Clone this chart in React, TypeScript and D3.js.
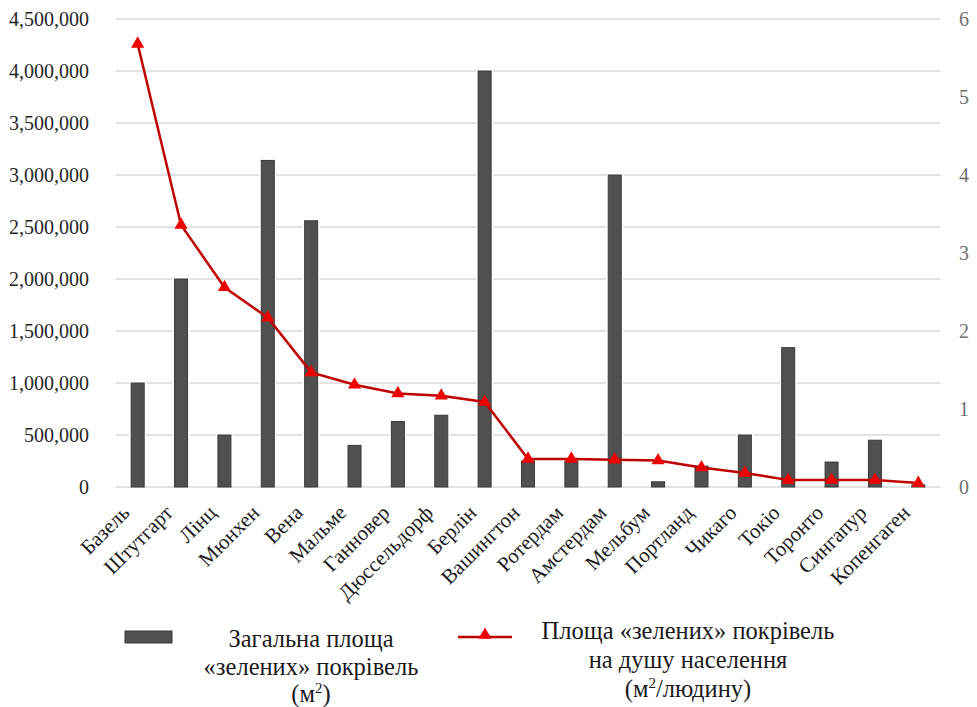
import React, { useEffect, useRef } from 'react';
import * as d3 from 'd3';

// data
const cities = ['Базель', 'Штутгарт', 'Лінц', 'Мюнхен', 'Вена', 'Мальме', 'Ганновер', 'Дюссельдорф', 'Берлін',
  'Вашингтон', 'Ротердам', 'Амстердам', 'Мельбум', 'Портланд', 'Чикаго', 'Токіо', 'Торонто', 'Сингапур', 'Копенгаген'];
const totalArea = [1000000, 2000000, 500000, 3140000, 2560000, 400000, 630000, 690000, 4000000,
  250000, 250000, 3000000, 50000, 200000, 500000, 1340000, 240000, 450000, 20000];
const perCapita = [5.68, 3.36, 2.56, 2.17, 1.47, 1.31, 1.2, 1.17, 1.09,
  0.36, 0.36, 0.35, 0.34, 0.25, 0.18, 0.09, 0.09, 0.09, 0.05];
const leftTicks = [0, 500000, 1000000, 1500000, 2000000, 2500000, 3000000, 3500000, 4000000, 4500000];
const rightTicks = [0, 1, 2, 3, 4, 5, 6];

const W = 977;
const H = 707;
const FONT = 'Liberation Serif';

export default function App() {
  const svgRef = useRef<SVGSVGElement>(null);

  useEffect(() => {
    const svg = d3.select(svgRef.current);
    svg.selectAll('*').remove();

    const left = 116, right = 940, top = 19, bottom = 487;

    const x = d3.scaleBand<string>().domain(cities).range([left, right]).paddingInner(0.7).paddingOuter(0.35);
    const y = d3.scaleLinear().domain([0, 4500000]).range([bottom, top]);
    const y2 = d3.scaleLinear().domain([0, 6]).range([bottom, top]);
    const cx = (c: string) => x(c)! + x.bandwidth() / 2;

    // gridlines
    svg.append('g').selectAll('line').data(leftTicks).enter().append('line')
      .attr('x1', left).attr('x2', right)
      .attr('y1', (d) => y(d)).attr('y2', (d) => y(d))
      .attr('stroke', '#d9d9d9').attr('stroke-width', 1.6);

    // left axis labels
    svg.append('g').selectAll('text').data(leftTicks).enter().append('text')
      .attr('x', 89).attr('y', (d) => y(d)).attr('dy', '0.35em')
      .attr('text-anchor', 'end')
      .style('font-family', FONT).style('font-size', '20px').attr('fill', '#262626')
      .text((d) => d3.format(',')(d));

    // right axis labels
    svg.append('g').selectAll('text').data(rightTicks).enter().append('text')
      .attr('x', 959).attr('y', (d) => y2(d)).attr('dy', '0.35em')
      .style('font-family', FONT).style('font-size', '20px').attr('fill', '#707070')
      .text((d) => d);

    // bars with a white halo
    const bars = svg.append('g');
    bars.selectAll('.halo').data(cities).enter().append('rect')
      .attr('class', 'halo')
      .attr('x', (d) => x(d)! - 2)
      .attr('y', (d, i) => y(totalArea[i]) - 2)
      .attr('width', x.bandwidth() + 4)
      .attr('height', (d, i) => bottom - y(totalArea[i]) + 1)
      .attr('fill', '#fff');
    bars.selectAll('.bar').data(cities).enter().append('rect')
      .attr('class', 'bar')
      .attr('x', (d) => x(d)!)
      .attr('y', (d, i) => y(totalArea[i]))
      .attr('width', x.bandwidth())
      .attr('height', (d, i) => bottom - y(totalArea[i]))
      .attr('fill', '#505050').attr('stroke', '#3a3a3a').attr('stroke-width', 1);

    // per-capita line
    const line = d3.line<number>()
      .x((d, i) => cx(cities[i]))
      .y((d) => y2(d));
    svg.append('path')
      .attr('d', line(perCapita))
      .attr('fill', 'none').attr('stroke', '#c00000').attr('stroke-width', 2.5);

    const tri = d3.symbol().type(d3.symbolTriangle).size(75);
    svg.append('g').selectAll('path').data(perCapita).enter().append('path')
      .attr('d', tri())
      .attr('transform', (d, i) => `translate(${cx(cities[i])},${y2(d)})`)
      .attr('fill', '#ee0000');

    // category labels
    svg.append('g').selectAll('text').data(cities).enter().append('text')
      .attr('transform', (d) => `translate(${cx(d) - 7},${514}) rotate(-45)`)
      .attr('text-anchor', 'end')
      .style('font-family', FONT).style('font-size', '21px').attr('fill', '#1a1a1a')
      .text((d) => d);

    // legend
    const lg = svg.append('g').style('font-family', FONT).style('font-size', '24.5px').attr('fill', '#1a1a1a');
    lg.append('rect').attr('x', 125).attr('y', 631).attr('width', 47).attr('height', 12)
      .attr('fill', '#505050').attr('stroke', '#3a3a3a');
    lg.append('text').attr('x', 311).attr('y', 647).attr('text-anchor', 'middle').text('Загальна площа');
    lg.append('text').attr('x', 311).attr('y', 675).attr('text-anchor', 'middle').text('«зелених» покрівель');
    const t3 = lg.append('text').attr('x', 311).attr('y', 702).attr('text-anchor', 'middle');
    t3.append('tspan').text('(м');
    t3.append('tspan').attr('dy', -9).style('font-size', '15px').text('2');
    t3.append('tspan').attr('dy', 9).text(')');

    lg.append('line').attr('x1', 458).attr('x2', 512).attr('y1', 637).attr('y2', 637)
      .attr('stroke', '#c00000').attr('stroke-width', 2.5);
    lg.append('path').attr('d', tri()).attr('transform', 'translate(485,635)').attr('fill', '#ee0000');
    lg.append('text').attr('x', 688).attr('y', 639).attr('text-anchor', 'middle').text('Площа «зелених» покрівель');
    lg.append('text').attr('x', 688).attr('y', 668).attr('text-anchor', 'middle').text('на душу населення');
    const r3 = lg.append('text').attr('x', 688).attr('y', 697).attr('text-anchor', 'middle');
    r3.append('tspan').text('(м');
    r3.append('tspan').attr('dy', -9).style('font-size', '15px').text('2');
    r3.append('tspan').attr('dy', 9).text('/людину)');
  }, []);

  return (
    <svg ref={svgRef} width={W} height={H}
      style={{ position: 'absolute', left: 0, top: 0, background: '#fff' }} />
  );
}
